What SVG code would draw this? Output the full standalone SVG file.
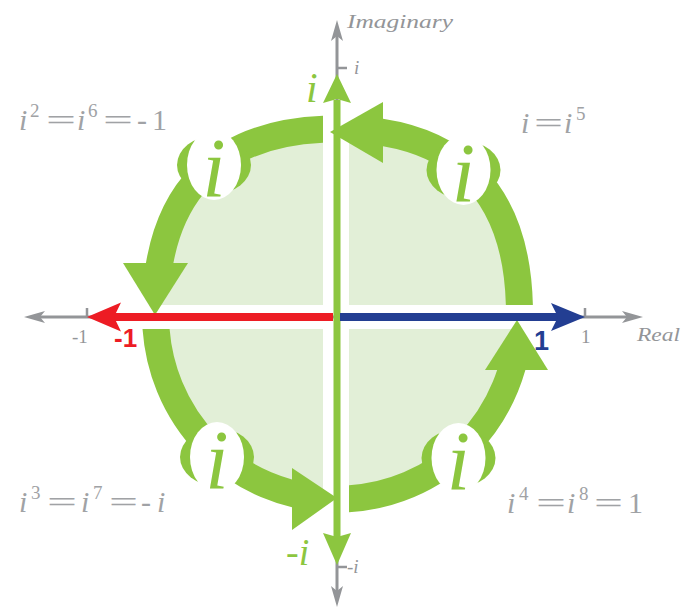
<svg xmlns="http://www.w3.org/2000/svg" width="693" height="609" viewBox="0 0 693 609">
<style>
.ax{stroke:#939598;stroke-width:3;fill:none}
.axh{fill:#939598}
.tick{stroke:#939598;stroke-width:2.5;fill:none}
.ring{fill:none;stroke:#8cc63f;stroke-width:27}
.gh{fill:#8cc63f}
.quad{fill:#e2efd7}
.gap{fill:#ffffff}
.bo{fill:#8cc63f}
.bw{fill:#ffffff}
.bi{font-family:"Liberation Serif",serif;font-style:italic;font-size:84px;fill:#8cc63f;text-anchor:middle}
.eq{font-family:"Liberation Serif",serif;font-size:30px;fill:#a0a2a5}
.it{font-style:italic}
.sup{font-size:19px}
.tl{font-family:"Liberation Serif",serif;font-size:19px;fill:#939598}
.gl{font-family:"Liberation Serif",serif;font-style:italic;fill:#8cc63f}
.num{font-family:"Liberation Sans",Arial,sans-serif;font-weight:bold}
</style>
<defs>
<path id="ah" d="M0,0 L-21,-6 L-16,0 L-21,6 Z"/>
<clipPath id="cTR"><rect x="383" y="0" width="310" height="305"/></clipPath>
<clipPath id="cTL"><rect x="0" y="0" width="323" height="263"/></clipPath>
<clipPath id="cBL"><rect x="0" y="329" width="292" height="280"/></clipPath>
<clipPath id="cBR"><rect x="349" y="370" width="344" height="239"/></clipPath>
</defs>

<g id="disc">
<path class="quad" d="M519.5,314 C519.5,191.9 457.6,129 337.5,129 C217.4,129 155.5,191.9 155.5,314 C155.5,417.6 235.6,499 337.5,499 C439.4,499 519.5,417.6 519.5,314 Z"/>
<rect class="gap" x="323" y="110" width="26" height="410"/>
<rect class="gap" x="140" y="305" width="400" height="24"/>
</g>

<g id="connectors">
<path class="ring" clip-path="url(#cTR)" d="M519.5,314 C519.5,191.9 457.6,129 337.5,129"/>
<path class="gh" d="M383,102 L383,163 L330,132 Z"/>
<path class="ring" clip-path="url(#cTL)" d="M337.5,129 C217.4,129 155.5,191.9 155.5,314"/>
<path class="gh" d="M123,263 L188,263 L155,315 Z"/>
<path class="ring" clip-path="url(#cBL)" d="M155.5,314 C155.5,417.6 235.6,499 337.5,499"/>
<path class="gh" d="M292,468 L292,530 L337,498 Z"/>
<path class="ring" clip-path="url(#cBR)" d="M337.5,499 C439.4,499 519.5,417.6 519.5,314"/>
<path class="gh" d="M485,370 L548,370 L517,320 Z"/>
</g>

<g id="badge-tl">
<ellipse class="bo" cx="214" cy="165" rx="37" ry="29"/>
<ellipse class="bw" cx="214" cy="165" rx="27" ry="35"/>
<text class="bi" x="214" y="197">i</text>
</g>
<g id="badge-tr">
<ellipse class="bo" cx="463.5" cy="170" rx="37" ry="29"/>
<ellipse class="bw" cx="463.5" cy="170" rx="27" ry="35"/>
<text class="bi" x="463.5" y="202">i</text>
</g>
<g id="badge-bl">
<ellipse class="bo" cx="217" cy="457" rx="37" ry="29"/>
<ellipse class="bw" cx="217" cy="457" rx="27" ry="35"/>
<text class="bi" x="217" y="489">i</text>
</g>
<g id="badge-br">
<ellipse class="bo" cx="458.5" cy="458" rx="37" ry="29"/>
<ellipse class="bw" cx="458.5" cy="458" rx="27" ry="35"/>
<text class="bi" x="458.5" y="490">i</text>
</g>

<g id="axes">
<line class="ax" x1="40" y1="317" x2="627" y2="317"/>
<line class="ax" x1="337" y1="36" x2="337" y2="591"/>
<use href="#ah" class="axh" transform="translate(643,317)"/>
<use href="#ah" class="axh" transform="translate(24,317) rotate(180)"/>
<use href="#ah" class="axh" transform="translate(337,20) rotate(-90)"/>
<use href="#ah" class="axh" transform="translate(337,607) rotate(90)"/>
<path class="tick" d="M87,317 V308 M585,317 V308 M337,68 H347 M337,567 H347"/>
<text class="tl" x="72" y="343" font-size="20">-1</text>
<text class="tl" x="581" y="343" font-size="20">1</text>
<text class="tl it" x="637" y="341" font-size="21" textLength="43" lengthAdjust="spacingAndGlyphs">Real</text>
<text class="tl it" x="347" y="28" font-size="20" textLength="106" lengthAdjust="spacingAndGlyphs">Imaginary</text>
<text class="tl it" x="354" y="74" font-size="20">i</text>
<text class="tl" x="347" y="573" font-size="18">-<tspan class="it">i</tspan></text>
</g>

<g id="arrow-i">
<line x1="337" y1="100" x2="337" y2="537" stroke="#8cc63f" stroke-width="7"/>
<path class="gh" d="M337,74 L351,103 L337,99 L323,103 Z"/>
<path class="gh" d="M337,565 L351,533 L337,537 L323,533 Z"/>
<text class="gl" x="306" y="102" font-size="42">i</text>
<text class="gl" x="286" y="565" font-size="38"><tspan font-style="normal">-</tspan>i</text>
</g>

<g id="arrow-neg1">
<line x1="333" y1="317" x2="112" y2="317" stroke="#ed1c24" stroke-width="8"/>
<path fill="#ed1c24" d="M87,317 L121,302.5 L114,317 L121,331.5 Z"/>
<text class="num" x="114" y="347" font-size="26" fill="#ed1c24">-1</text>
</g>

<g id="arrow-1">
<line x1="340" y1="317" x2="560" y2="317" stroke="#233e92" stroke-width="8"/>
<path fill="#233e92" d="M585,317 L551,303 L558,317 L551,331 Z"/>
<text class="num" x="534" y="350" font-size="27" fill="#233e92">1</text>
</g>

<g id="eq-tl">
<text class="eq" y="130"><tspan x="19" class="it">i</tspan><tspan x="30" y="117" class="sup">2</tspan><tspan x="46" y="130" textLength="30" lengthAdjust="spacingAndGlyphs">=</tspan><tspan x="77" class="it">i</tspan><tspan x="88" y="117" class="sup">6</tspan><tspan x="103" y="130" textLength="30" lengthAdjust="spacingAndGlyphs">=</tspan><tspan x="137">-</tspan><tspan x="152">1</tspan></text>
</g>
<g id="eq-tr">
<text class="eq" y="133"><tspan x="521" class="it">i</tspan><tspan x="534" textLength="29" lengthAdjust="spacingAndGlyphs">=</tspan><tspan x="564" class="it">i</tspan><tspan x="576" y="120" class="sup">5</tspan></text>
</g>
<g id="eq-bl">
<text class="eq" y="512"><tspan x="19" class="it">i</tspan><tspan x="31" y="499" class="sup">3</tspan><tspan x="47" y="512" textLength="30" lengthAdjust="spacingAndGlyphs">=</tspan><tspan x="81" class="it">i</tspan><tspan x="93" y="499" class="sup">7</tspan><tspan x="109" y="512" textLength="29" lengthAdjust="spacingAndGlyphs">=</tspan><tspan x="141">-</tspan><tspan x="157" class="it">i</tspan></text>
</g>
<g id="eq-br">
<text class="eq" y="513"><tspan x="507" class="it">i</tspan><tspan x="519" y="500" class="sup">4</tspan><tspan x="536" y="513" textLength="30" lengthAdjust="spacingAndGlyphs">=</tspan><tspan x="567" class="it">i</tspan><tspan x="579" y="500" class="sup">8</tspan><tspan x="594" y="513" textLength="29" lengthAdjust="spacingAndGlyphs">=</tspan><tspan x="628">1</tspan></text>
</g>
</svg>
